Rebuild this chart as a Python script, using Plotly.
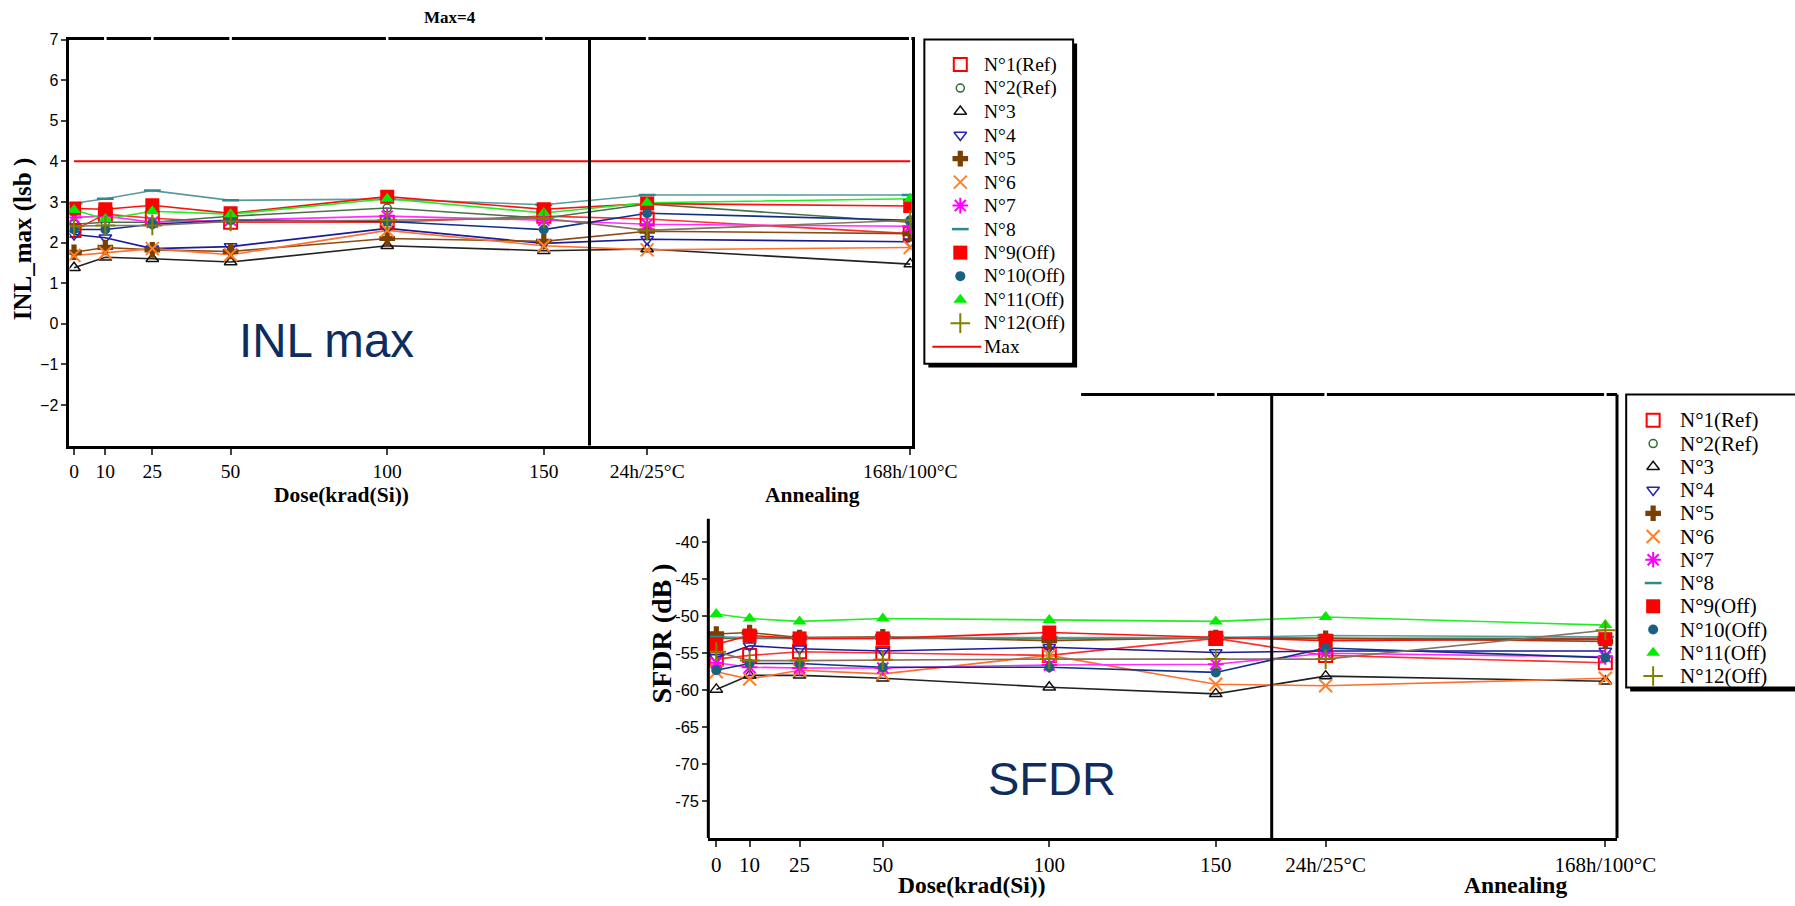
import plotly.graph_objects as go

W, H = 1795, 906

# ---------------- data ----------------
DOSE_TICKS = [0, 10, 25, 50, 100, 150]
ANNEAL_LABELS = ["24h/25°C", "168h/100°C"]
X_POS = [0, 10, 25, 50, 100, 150, 183, 267]   # last two = annealing steps
TICK_TEXT = ["0", "10", "25", "50", "100", "150"] + ANNEAL_LABELS

SERIES = ["N°1(Ref)", "N°2(Ref)", "N°3", "N°4", "N°5", "N°6", "N°7", "N°8",
          "N°9(Off)", "N°10(Off)", "N°11(Off)", "N°12(Off)"]

INL_N1 = [2.30, 2.70, 2.60, 2.50, 2.50, 2.65, 2.58, 2.22]
INL_N2 = [2.45, 2.50, 2.50, 2.65, 2.85, 2.60, 2.95, 2.50]
INL_N3 = [1.38, 1.64, 1.60, 1.52, 1.92, 1.80, 1.84, 1.47]
INL_N4 = [2.20, 2.12, 1.85, 1.90, 2.35, 1.98, 2.08, 2.02]
INL_N5 = [1.76, 1.88, 1.82, 1.78, 2.10, 2.03, 2.28, 2.22]
INL_N6 = [1.68, 1.75, 1.85, 1.70, 2.30, 1.92, 1.82, 1.88]
INL_N7 = [2.62, 2.65, 2.50, 2.55, 2.65, 2.55, 2.45, 2.40]
INL_N8 = [2.97, 3.08, 3.28, 3.04, 3.07, 2.93, 3.17, 3.17]
INL_N9 = [2.84, 2.82, 2.92, 2.72, 3.13, 2.82, 2.96, 2.90]
INL_N10 = [2.32, 2.32, 2.45, 2.55, 2.52, 2.32, 2.72, 2.55]
INL_N11 = [2.80, 2.58, 2.77, 2.70, 3.08, 2.73, 2.98, 3.08]
INL_N12 = [2.40, 2.42, 2.42, 2.52, 2.55, 2.60, 2.30, 2.55]
INL_MAX = 4

SFDR_N1 = [-55.8, -55.3, -54.8, -55.0, -55.3, -53.0, -55.3, -56.3]
SFDR_N2 = [-53.0, -53.0, -53.1, -53.1, -53.0, -53.0, -53.0, -53.0]
SFDR_N3 = [-59.9, -58.0, -58.0, -58.4, -59.6, -60.5, -58.1, -58.8]
SFDR_N4 = [-55.6, -54.0, -54.4, -54.7, -54.2, -54.9, -54.7, -54.7]
SFDR_N5 = [-52.4, -52.2, -52.9, -52.8, -53.3, -52.9, -53.0, -53.4]
SFDR_N6 = [-57.5, -58.5, -57.3, -57.8, -55.3, -59.2, -59.4, -58.4]
SFDR_N7 = [-56.3, -56.9, -57.0, -57.0, -56.6, -56.5, -55.0, -55.5]
SFDR_N8 = [-52.8, -52.9, -52.9, -52.9, -52.8, -52.9, -52.6, -52.8]
SFDR_N9 = [-53.8, -52.6, -53.0, -53.0, -52.2, -52.9, -53.3, -53.1]
SFDR_N10 = [-57.3, -56.4, -56.4, -56.9, -56.9, -57.6, -54.3, -55.6]
SFDR_N11 = [-49.7, -50.3, -50.7, -50.3, -50.5, -50.7, -50.1, -51.2]
SFDR_N12 = [-54.8, -56.0, -56.0, -55.9, -55.8, -55.8, -55.8, -51.9]

INL_TICKS = [-2, -1, 0, 1, 2, 3, 4, 5, 6, 7]
SFDR_TICKS = [-75, -70, -65, -60, -55, -50, -45, -40]

INL_DATA = [INL_N1, INL_N2, INL_N3, INL_N4, INL_N5, INL_N6, INL_N7, INL_N8,
            INL_N9, INL_N10, INL_N11, INL_N12]
SFDR_DATA = [SFDR_N1, SFDR_N2, SFDR_N3, SFDR_N4, SFDR_N5, SFDR_N6, SFDR_N7, SFDR_N8,
             SFDR_N9, SFDR_N10, SFDR_N11, SFDR_N12]

# ---------------- styles ----------------
MARKERS = [
    dict(symbol="square-open", color="#ff0000", size=13, line=dict(width=2, color="#ff0000")),
    dict(symbol="circle-open", color="#2f6a2f", size=8, line=dict(width=1.5, color="#2f6a2f")),
    dict(symbol="triangle-up-open", color="#111111", size=11, line=dict(width=1.5, color="#111111")),
    dict(symbol="triangle-down-open", color="#2424b0", size=11, line=dict(width=1.5, color="#2424b0")),
    dict(symbol="cross", color="#7b3f00", size=13),
    dict(symbol="x-thin-open", color="#ff7f27", size=13, line=dict(width=2, color="#ff7f27")),
    dict(symbol="asterisk-open", color="#ff00ff", size=13, line=dict(width=2, color="#ff00ff")),
    dict(symbol="line-ew-open", color="#2e8b8b", size=12, line=dict(width=2.5, color="#2e8b8b")),
    dict(symbol="square", color="#ff0000", size=14),
    dict(symbol="circle", color="#1a6080", size=10),
    dict(symbol="triangle-up", color="#00ee00", size=12),
    dict(symbol="cross-thin-open", color="#808000", size=14, line=dict(width=2, color="#808000")),
]
LINE_COLORS = ["#ff3030", "#4a704a", "#222222", "#1a1a9a", "#8a4a10", "#ff7030",
               "#ff30ff", "#5a9a9a", "#ff1010", "#10308a", "#20ee20", "#8a7060"]


# reference-pixel -> page-pixel (calibrated against the rendered page)
def X(x):
    return (x + 0.9) / 0.976


def Y(y):
    return 1.0025 * y - 6.1


def px(x):
    return X(x) / W


def py(y):
    return 1 - Y(y) / H


fig = go.Figure()

for i, name in enumerate(SERIES):
    for data, xa, ya in ((INL_DATA[i], "x", "y"), (SFDR_DATA[i], "x2", "y2")):
        fig.add_trace(go.Scatter(x=X_POS, y=data, mode="lines", xaxis=xa, yaxis=ya,
                                 line=dict(color=LINE_COLORS[i], width=1.6),
                                 showlegend=False, hoverinfo="skip"))

fig.add_trace(go.Scatter(x=[X_POS[0], X_POS[-1]], y=[INL_MAX, INL_MAX], mode="lines",
                         xaxis="x", yaxis="y", line=dict(color="#ff0000", width=2),
                         name="Max", showlegend=False))

for i, name in enumerate(SERIES):
    for data, xa, ya in ((INL_DATA[i], "x", "y"), (SFDR_DATA[i], "x2", "y2")):
        fig.add_trace(go.Scatter(x=X_POS, y=data, mode="markers", xaxis=xa, yaxis=ya,
                                 marker=MARKERS[i], name=name, showlegend=False))

# ---------------- manual legends (overlay axis in page pixels) ----------------
LEG1 = dict(box=(925, 37.8, 1074, 364), mx=961, tx=983, y0=63, row=23.66, font=19.5)
LEG2 = dict(box=(1628, 395, 1800, 690), mx=1655, tx=1680, y0=421, row=23.4, font=21)

for leg, with_max in ((LEG1, True), (LEG2, False)):
    for i, name in enumerate(SERIES):
        fig.add_trace(go.Scatter(x=[X(leg["mx"])], y=[Y(leg["y0"] + i * leg["row"])],
                                 mode="markers", xaxis="x3", yaxis="y3",
                                 marker=MARKERS[i], showlegend=False, hoverinfo="skip"))
    if with_max:
        yy = Y(leg["y0"] + 12 * leg["row"])
        fig.add_trace(go.Scatter(x=[X(933), X(982)], y=[yy, yy], mode="lines",
                                 xaxis="x3", yaxis="y3", line=dict(color="#ff0000", width=2),
                                 showlegend=False, hoverinfo="skip"))

# ---------------- geometry ----------------
T_L, T_R, T_T, T_B = 68.7, 912.4, 37.8, 446.5
B_L, B_R, B_T, B_B = 708.6, 1618.8, 395.0, 841.4

fx_top = dict(family="Liberation Serif", size=19.5, color="#000")
fx_bot = dict(family="Liberation Serif", size=21, color="#000")
fy_top = dict(family="Liberation Sans", size=16, color="#000")
fy_bot = dict(family="Liberation Sans", size=16.5, color="#000")

fig.update_layout(
    width=W, height=H, autosize=False,
    margin=dict(l=0, r=0, t=0, b=0),
    paper_bgcolor="white", plot_bgcolor="rgba(0,0,0,0)",
    showlegend=False,
    xaxis=dict(domain=[px(T_L), px(T_R)], range=[-1.45, 267.5], tickmode="array",
               tickvals=X_POS, ticktext=TICK_TEXT, tickfont=fx_top,
               showgrid=False, zeroline=False, showline=True, linewidth=3,
               linecolor="#000", mirror=True, ticks="outside", ticklen=6, tickwidth=2,
               anchor="y"),
    yaxis=dict(domain=[py(T_B), py(T_T)], range=[-3, 7], tickmode="array",
               tickvals=INL_TICKS, tickfont=fy_top, showgrid=False, zeroline=False,
               showline=True, linewidth=3, linecolor="#000", mirror=True,
               ticks="outside", ticklen=5, tickwidth=1.5, anchor="x"),
    xaxis2=dict(domain=[px(B_L), px(B_R)], range=[-2.4, 270.5], tickmode="array",
                tickvals=X_POS, ticktext=TICK_TEXT, tickfont=fx_bot,
                showgrid=False, zeroline=False, showline=True, linewidth=3,
                linecolor="#000", ticks="outside", ticklen=6, tickwidth=2, anchor="y2"),
    yaxis2=dict(domain=[py(B_B), py(B_T)], range=[-80, -20], tickmode="array",
                tickvals=SFDR_TICKS, ticktext=[str(v) for v in SFDR_TICKS],
                tickfont=fy_bot, showgrid=False, zeroline=False, showline=False,
                ticks="outside", ticklen=5, tickwidth=1.5, anchor="x2"),
    xaxis3=dict(domain=[0, 1], range=[0, W], visible=False, fixedrange=True, anchor="y3"),
    yaxis3=dict(domain=[0, 1], range=[H, 0], visible=False, fixedrange=True, anchor="x3"),
)

shapes = []
shapes.append(dict(type="line", xref="x", yref="y domain", x0=164.6, x1=164.6, y0=0, y1=1,
                   line=dict(color="#000", width=3)))
shapes.append(dict(type="line", xref="x2", yref="y2 domain", x0=166.8, x1=166.8, y0=0, y1=1,
                   line=dict(color="#000", width=3)))
# bottom chart frame (upper-left part hidden behind the top chart's area)
shapes.append(dict(type="line", xref="paper", yref="paper", x0=px(B_L), x1=px(B_L),
                   y0=py(B_B), y1=py(520), line=dict(color="#000", width=3)))
shapes.append(dict(type="line", xref="paper", yref="paper", x0=px(B_R), x1=px(B_R),
                   y0=py(B_B), y1=py(B_T), line=dict(color="#000", width=3)))
shapes.append(dict(type="line", xref="paper", yref="paper", x0=px(1082), x1=px(B_R),
                   y0=py(B_T), y1=py(B_T), line=dict(color="#000", width=3)))
# small white gaps in the top frame lines at tick positions
for xv in X_POS[1:]:
    shapes.append(dict(type="line", xref="x", yref="paper", x0=xv, x1=xv,
                       y0=py(T_T + 3), y1=py(T_T - 3), line=dict(color="#fff", width=2.5)))
for xv in X_POS[5:]:
    shapes.append(dict(type="line", xref="x2", yref="paper", x0=xv, x1=xv,
                       y0=py(B_T + 3), y1=py(B_T - 3), line=dict(color="#fff", width=2.5)))
# legend boxes with shadow
for leg in (LEG1, LEG2):
    l, t, r, b = leg["box"]
    shapes.append(dict(type="rect", xref="paper", yref="paper", x0=px(l + 4), x1=px(r + 4),
                       y0=py(b + 4), y1=py(t + 4), fillcolor="#000",
                       line=dict(width=0), layer="below"))
    shapes.append(dict(type="rect", xref="paper", yref="paper", x0=px(l), x1=px(r),
                       y0=py(b), y1=py(t), fillcolor="#fff",
                       line=dict(color="#000", width=2), layer="below"))
fig.update_layout(shapes=shapes)

serif_b = dict(family="Liberation Serif", color="#000")
ann = [
    dict(text="<b>Max=4</b>", x=px(450), y=py(16), font=dict(size=17, **serif_b)),
    dict(text="<b>INL_max (lsb )</b>", x=px(23), y=py(238), textangle=-90,
         font=dict(size=25, **serif_b)),
    dict(text="<b>Dose(krad(Si))</b>", x=px(341), y=py(495.7), font=dict(size=21.5, **serif_b)),
    dict(text="<b>Annealing</b>", x=px(812.8), y=py(495.7), font=dict(size=21.5, **serif_b)),
    dict(text="INL max", x=px(326.3), y=py(341.2),
         font=dict(family="Liberation Sans", size=47.5, color="#0d2d5e")),
    dict(text="<b>SFDR (dB )</b>", x=px(661.7), y=py(635), textangle=-90,
         font=dict(size=28, **serif_b)),
    dict(text="<b>Dose(krad(Si))</b>", x=px(973), y=py(888.4), font=dict(size=23.5, **serif_b)),
    dict(text="<b>Annealing</b>", x=px(1517), y=py(888.4), font=dict(size=23.5, **serif_b)),
    dict(text="SFDR", x=px(1053.2), y=py(781.9),
         font=dict(family="Liberation Sans", size=47, color="#0d2d5e")),
]
for a in ann:
    a.update(xref="paper", yref="paper", showarrow=False, xanchor="center", yanchor="middle")
# legend labels
for leg, with_max in ((LEG1, True), (LEG2, False)):
    names = SERIES + (["Max"] if with_max else [])
    for i, name in enumerate(names):
        ann.append(dict(text=name, xref="paper", yref="paper", x=px(leg["tx"]),
                        y=py(leg["y0"] + i * leg["row"]), showarrow=False,
                        xanchor="left", yanchor="middle",
                        font=dict(family="Liberation Serif", size=leg["font"], color="#000")))
fig.update_layout(annotations=ann)

fig.write_html("out.html")
